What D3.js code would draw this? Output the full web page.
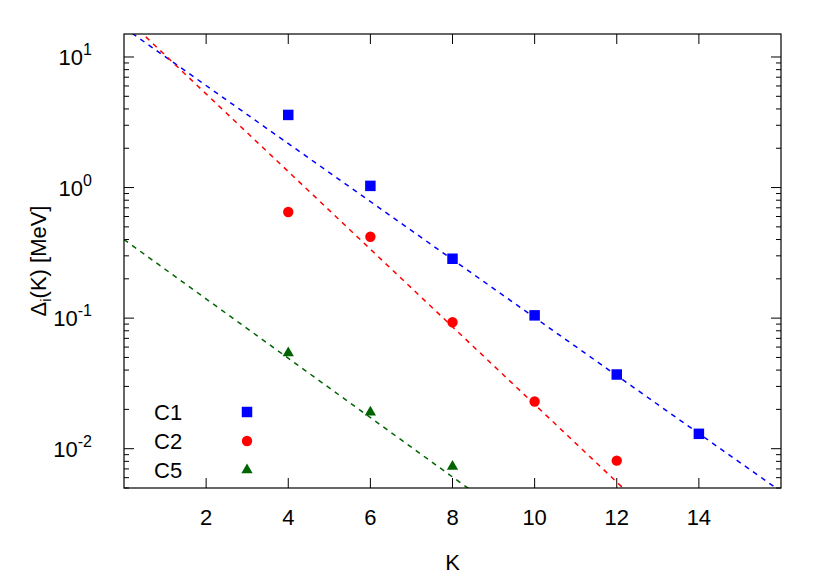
<!DOCTYPE html>
<html><head><meta charset="utf-8">
<script src="https://cdn.jsdelivr.net/npm/d3@7"></script>
<style>body{margin:0;background:#fff}text{font-family:"Liberation Sans",Arial,sans-serif;fill:#000}</style>
</head><body><svg id="chart" width="830" height="581"></svg>
<script>
// Data
const kValues = [4, 6, 8, 10, 12, 14];
const c1 = [3.6, 1.03, 0.285, 0.105, 0.037, 0.013];
const c2 = [0.65, 0.42, 0.093, 0.023, 0.0081];
const c5 = [0.054, 0.019, 0.0073];
// dashed fit lines, endpoints (K, value)
const fitC1 = [[0, 16.8], [16, 0.0047]];
const fitC2 = [[0, 20.5], [13, 0.0028]];
const fitC5 = [[0, 0.40], [9, 0.0036]];
const xTicks = [2, 4, 6, 8, 10, 12, 14];
const yTicks = [10, 1, 0.1, 0.01];
const yTickExp = ["1", "0", "-1", "-2"];

const svg = d3.select("#chart");
const L = 124, R = 781, T = 34, B = 488;
const x = d3.scaleLinear().domain([0, 16]).range([L, R]);
const y = d3.scaleLog().domain([0.005, 15]).range([B, T]);

svg.append("defs").append("clipPath").attr("id", "clip")
  .append("rect").attr("x", L).attr("y", T).attr("width", R - L).attr("height", B - T);

// minor/major ticks on y (both sides)
const minor = [];
[0.001, 0.01, 0.1, 1, 10].forEach(d => { for (let m = 2; m <= 9; m++) minor.push(d * m); });
const minorIn = minor.filter(v => v >= 0.005 && v <= 15);
const tk = svg.append("g").attr("stroke", "#000").attr("stroke-width", 1);
minorIn.forEach(v => {
  tk.append("line").attr("x1", L).attr("x2", L + 5).attr("y1", y(v)).attr("y2", y(v));
  tk.append("line").attr("x1", R).attr("x2", R - 5).attr("y1", y(v)).attr("y2", y(v));
});
yTicks.forEach(v => {
  tk.append("line").attr("x1", L).attr("x2", L + 10).attr("y1", y(v)).attr("y2", y(v));
  tk.append("line").attr("x1", R).attr("x2", R - 10).attr("y1", y(v)).attr("y2", y(v));
});
xTicks.forEach(v => {
  tk.append("line").attr("x1", x(v)).attr("x2", x(v)).attr("y1", B).attr("y2", B - 10);
  tk.append("line").attr("x1", x(v)).attr("x2", x(v)).attr("y1", T).attr("y2", T + 10);
});

// tick labels
svg.append("g").selectAll("text").data(xTicks).enter().append("text")
  .attr("x", d => x(d)).attr("y", B + 37).attr("text-anchor", "middle")
  .style("font-size", "22px").text(d => d);
const yl = svg.append("g").selectAll("text").data(yTicks).enter().append("text")
  .attr("x", 92).attr("y", d => y(d) + 8).attr("text-anchor", "end").style("font-size", "22px");
yl.append("tspan").text("10");
yl.append("tspan").attr("dy", -10).style("font-size", "16px").text((d, i) => yTickExp[i]);

// axis titles
svg.append("text").attr("x", (L + R) / 2).attr("y", 570).attr("text-anchor", "middle")
  .style("font-size", "22px").text("K");
const yt = svg.append("text").attr("transform", `translate(46,${(T + B) / 2}) rotate(-90)`)
  .attr("text-anchor", "middle").style("font-size", "22px");
yt.append("tspan").text("Δ");
yt.append("tspan").attr("dy", 5).style("font-size", "15px").text("i");
yt.append("tspan").attr("dy", -5).text("(K) [MeV]");

// fit lines
const line = d3.line().x(d => x(d[0])).y(d => y(d[1]));
const plot = svg.append("g").attr("clip-path", "url(#clip)");
[[fitC1, "#0000ff"], [fitC2, "#ff0000"], [fitC5, "#006400"]].forEach(([f, c]) => {
  plot.append("path").attr("d", line(f)).attr("fill", "none").attr("stroke", c)
    .attr("stroke-width", 1.5).attr("stroke-dasharray", "5,5");
});

// points
const sq = d3.symbol().type(d3.symbolSquare).size(110);
const ci = d3.symbol().type(d3.symbolCircle).size(85);
const tr = d3.symbol().type(d3.symbolTriangle).size(55);
const series = [[c1, "#0000ff", sq, "C1"], [c2, "#ff0000", ci, "C2"], [c5, "#006400", tr, "C5"]];
series.forEach(([vals, c, sym, name], si) => {
  plot.selectAll(null).data(vals).enter().append("path")
    .attr("d", sym).attr("fill", c)
    .attr("transform", (d, i) => `translate(${x(kValues[i])},${y(d)})`);
  const ly = 412 + si * 29;
  svg.append("text").attr("x", 154).attr("y", ly + 8).style("font-size", "22px").text(name);
  svg.append("path").attr("d", sym).attr("fill", c).attr("transform", `translate(247,${ly})`);
});

// frame
svg.append("rect").attr("x", L).attr("y", T).attr("width", R - L).attr("height", B - T)
  .attr("fill", "none").attr("stroke", "#000").attr("stroke-width", 1.2);
</script></body></html>
